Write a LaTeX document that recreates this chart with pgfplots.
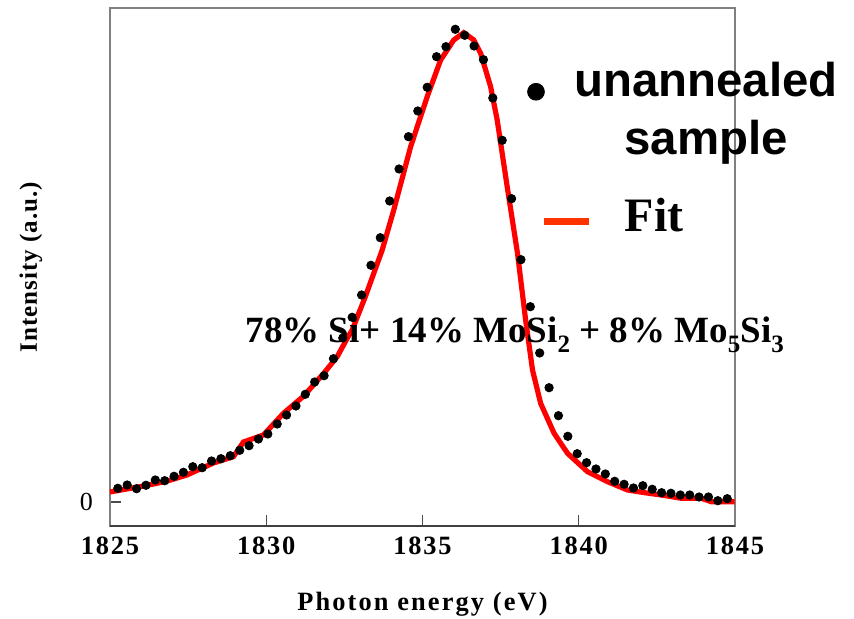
\documentclass[border=0pt]{standalone}
\usepackage{fontspec}
\setmainfont{Liberation Serif}
\setsansfont{Liberation Sans}
\usepackage{pgfplots}
\pgfplotsset{compat=1.18}
\definecolor{fitred}{HTML}{FF0000}
\definecolor{legred}{HTML}{FF3300}
\definecolor{axgray}{HTML}{808080}
\newcommand{\sub}[1]{\raisebox{-5pt}{\fontsize{12.5}{12.5}\selectfont #1}}

\pgfplotstableread{
x y
1825.25 13.7
1825.55 17
1825.85 13.3
1826.15 16.7
1826.45 22
1826.75 21.3
1827.05 25.7
1827.35 29.7
1827.65 35.3
1827.95 34.3
1828.25 41
1828.55 43.3
1828.85 46.3
1829.15 51.7
1829.45 56.3
1829.75 63
1830.05 68
1830.35 78
1830.65 87
1830.95 96
1831.25 107.7
1831.55 120
1831.85 126.3
1832.15 143.3
1832.45 164
1832.75 184.7
1833.05 207
1833.35 236.7
1833.65 264.3
1833.95 301
1834.25 333
1834.55 365.3
1834.85 391
1835.15 414.7
1835.45 445.3
1835.75 455.3
1836.05 472.7
1836.35 466.7
1836.65 456
1836.95 442.3
1837.25 404
1837.55 361.7
1837.85 303.3
1838.15 242.3
1838.45 195.3
1838.75 149
1839.05 114.3
1839.35 86.3
1839.65 65.7
1839.95 48.3
1840.25 39.3
1840.55 33
1840.85 28
1841.15 20.7
1841.45 17.7
1841.75 14
1842.05 16.3
1842.35 12.7
1842.65 9.3
1842.95 8.7
1843.25 7
1843.55 7
1843.85 5
1844.15 5
1844.45 1.3
1844.75 3.3
}\measured

\pgfplotstableread{
x y
1825.00 10
1826.07 16
1826.76 20.3
1827.46 27
1828.31 39
1828.95 45.3
1829.27 60
1829.91 67
1830.55 88.7
1831.20 106
1831.84 128.7
1832.27 145.3
1832.59 163.7
1832.75 172
1833.17 205.3
1833.71 252
1834.08 292
1834.62 355.3
1835.15 405.3
1835.58 442
1836.00 462
1836.32 469.3
1836.64 462
1836.86 448.7
1837.18 415.3
1837.39 382
1837.71 315.3
1838.04 248.7
1838.30 182
1838.52 132
1838.78 98.7
1839.21 68.7
1839.64 48.7
1840.28 30.3
1840.92 20.3
1841.56 12
1842.11 9.3
1842.64 7
1843.28 3.7
1843.92 3.7
1844.24 0.3
1844.99 0.3
}\fit

\begin{document}
\begin{tikzpicture}
\path[use as bounding box] (-55pt,-46.5pt) rectangle (372pt,263pt);
\begin{axis}[
  scale only axis, width=312.5pt, height=259pt,
  xmin=1825, xmax=1845, ymin=-24, ymax=494,
  xtick={1825,1830,...,1845}, ytick={0},
  tick align=inside, xtick pos=bottom, ytick pos=left,
  major tick length=5.5pt,
  axis line style={axgray, line width=0.6pt},
  tick style={black!70, line width=0.6pt},
  /pgf/number format/assume math mode=true,
  /pgf/number format/1000 sep={},
  xticklabel style={font=\bfseries\fontsize{13.2}{15}\selectfont\addfontfeature{LetterSpace=7}, yshift=-2pt},
  yticklabel style={font=\fontsize{13}{15}\selectfont, xshift=-5pt},
  xlabel={Photon energy (eV)},
  ylabel={Intensity (a.u.)},
  xlabel style={font=\bfseries\fontsize{13.2}{15}\selectfont\addfontfeature{LetterSpace=8},
    at={(axis description cs:0.5,-0.1506)}, anchor=center},
  ylabel style={font=\bfseries\fontsize{12.5}{14}\selectfont\addfontfeature{LetterSpace=4},
    at={(axis description cs:-0.1264,0.5)}, anchor=center},
  clip=false,
  legend cell align=left,
  legend style={at={(axis cs:1838.35,439.6)}, anchor=north west,
    draw=none, fill=none, inner sep=0pt, outer sep=0pt,
    row sep=17pt, column sep=14.8pt,
    nodes={inner sep=0pt, outer sep=0pt, text depth={}}},
]
\addplot[fitred, line width=2.6pt, forget plot] table {\fit};
\addplot[only marks, mark=*, mark size=2.1pt, black, forget plot] table {\measured};

\addlegendimage{legend image code/.code={\fill[black] (0pt,10.85pt) circle (4.2pt);}}
\addlegendentry[font=\sffamily\bfseries\fontsize{23.7}{29}\selectfont, align=center]{unannealed\\sample}
\addlegendimage{legend image code/.code={\draw[legred, line width=3.5pt, overlay] (4pt,-3.1pt) -- (26.5pt,-3.1pt);}}
\addlegendentry[font=\bfseries\fontsize{24}{28}\selectfont]{\hspace*{25.3pt}Fit}

\draw[black!75, line width=1pt] (rel axis cs:0,0) -- (rel axis cs:1,0);

\node[anchor=base west, inner sep=0pt, font=\bfseries\fontsize{18.5}{20}\selectfont]
  at (axis cs:1829.33,159) {78\% Si+ 14\% MoSi\sub{2} + 8\% Mo\sub{5}Si\sub{3}};
\end{axis}
\end{tikzpicture}
\end{document}
